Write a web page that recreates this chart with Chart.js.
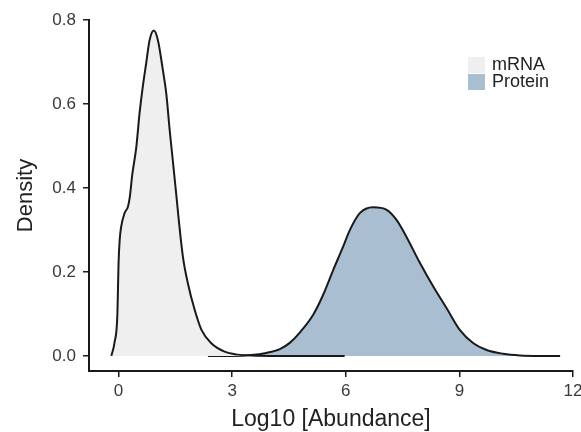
<!DOCTYPE html>
<html>
<head>
<meta charset="utf-8">
<title>Density</title>
<script src="https://cdn.jsdelivr.net/npm/chart.js@4.4.0/dist/chart.umd.min.js"></script>
<style>
  html, body { margin: 0; padding: 0; background: #fff; overflow: hidden; }
  #wrap { width: 581px; height: 432px; overflow: hidden; }
</style>
</head>
<body>
<div id="wrap"><canvas id="density" width="592" height="432"></canvas></div>
<script>
// density curves, log10 abundance on x
const mrnaLog = [-0.19, -0.11, -0.03, 0.00, 0.03, 0.07, 0.16, 0.25, 0.30, 0.36, 0.47, 0.555, 0.64, 0.73, 0.82, 0.93,
  1.04, 1.17, 1.26, 1.35, 1.44, 1.53, 1.59, 1.70, 1.83, 2.01, 2.19, 2.45, 2.80, 3.15, 3.50, 4.20, 5.00, 5.97];
const mrnaDensity = [0.000, 0.030, 0.100, 0.220, 0.276, 0.308, 0.340, 0.356, 0.380, 0.430, 0.498, 0.578, 0.641, 0.697, 0.752, 0.775,
  0.752, 0.681, 0.625, 0.538, 0.459, 0.379, 0.324, 0.236, 0.173, 0.110, 0.062, 0.030, 0.010, 0.003, 0.001, 0.000, 0.000, 0.000];

const proteinLog = [2.36, 3.00, 3.50, 3.90, 4.26, 4.52, 4.78, 5.14, 5.40, 5.67, 5.93, 6.11, 6.37, 6.72,
  7.08, 7.34, 7.60, 7.96, 8.31, 8.66, 9.01, 9.37, 9.72, 10.16, 10.60, 11.10, 11.66];
const proteinDensity = [0.000, 0.000, 0.002, 0.007, 0.016, 0.031, 0.055, 0.098, 0.145, 0.205, 0.260, 0.300, 0.340, 0.354,
  0.348, 0.324, 0.284, 0.221, 0.165, 0.114, 0.062, 0.030, 0.014, 0.005, 0.001, 0.000, 0.000];

const xTicks = [0, 3, 6, 9, 12];
const yTicks = [0, 0.2, 0.4, 0.6, 0.8];
const seriesNames = ['mRNA', 'Protein'];

const FONT = '"Liberation Sans", Arial, Helvetica, sans-serif';
const AXIS = '#1a1a1a';
const FILLS = ['#efefef', '#a9bfd1'];

function toPoints(xs, ys) {
  return xs.map((x, i) => ({ x: x, y: ys[i] }));
}

// legend drawn inside the panel, top right
const panelLegend = {
  id: 'panelLegend',
  afterDraw(chart) {
    const ctx = chart.ctx;
    const area = chart.chartArea;
    const x0 = area.right - 105;
    const y0 = area.top + 37;
    ctx.save();
    ctx.font = '18px ' + FONT;
    ctx.textBaseline = 'middle';
    ctx.textAlign = 'left';
    seriesNames.forEach((name, i) => {
      const y = y0 + i * 17;
      ctx.fillStyle = FILLS[i];
      ctx.fillRect(x0, y, 17, 16);
      ctx.fillStyle = '#222';
      ctx.fillText(name, x0 + 24, y + 8);
    });
    ctx.restore();
  }
};

const axisBase = {
  type: 'linear',
  border: { display: true, color: AXIS, width: 2 },
  grid: { display: true, drawOnChartArea: false, drawTicks: true, tickLength: 6, color: AXIS, lineWidth: 1.5 }
};

new Chart(document.getElementById('density'), {
  type: 'line',
  data: {
    datasets: [
      {
        label: seriesNames[0],
        data: toPoints(mrnaLog, mrnaDensity),
        borderColor: AXIS,
        backgroundColor: FILLS[0],
        borderWidth: 2,
        fill: 'origin',
        pointRadius: 0,
        cubicInterpolationMode: 'monotone'
      },
      {
        label: seriesNames[1],
        data: toPoints(proteinLog, proteinDensity),
        borderColor: AXIS,
        backgroundColor: FILLS[1],
        borderWidth: 2,
        fill: 'origin',
        pointRadius: 0,
        cubicInterpolationMode: 'monotone'
      }
    ]
  },
  options: {
    responsive: false,
    animation: false,
    layout: { padding: { top: 20, right: 19, bottom: 0, left: 0 } },
    plugins: {
      legend: { display: false },
      tooltip: { enabled: false }
    },
    scales: {
      x: {
        ...axisBase,
        min: -0.78,
        max: 12,
        afterBuildTicks: s => { s.ticks = xTicks.map(v => ({ value: v })); },
        afterFit: s => { s.height = 61; },
        ticks: { font: { size: 17, family: FONT }, color: '#3a3a3a', padding: 4, maxRotation: 0 },
        title: {
          display: true,
          text: 'Log10 [Abundance]',
          color: '#222',
          font: { size: 23, family: FONT, lineHeight: 1.05 },
          padding: { top: 0, bottom: 0 }
        }
      },
      y: {
        ...axisBase,
        min: -0.036,
        max: 0.8,
        afterBuildTicks: s => { s.ticks = yTicks.map(v => ({ value: v })); },
        afterFit: s => { s.width = 89; },
        ticks: {
          font: { size: 17, family: FONT },
          color: '#3a3a3a',
          padding: 7,
          callback: v => Number(v).toFixed(1)
        },
        title: {
          display: true,
          text: 'Density',
          color: '#222',
          font: { size: 22, family: FONT },
          padding: { top: 13, bottom: 0 }
        }
      }
    }
  },
  plugins: [panelLegend]
});
</script>
</body>
</html>
